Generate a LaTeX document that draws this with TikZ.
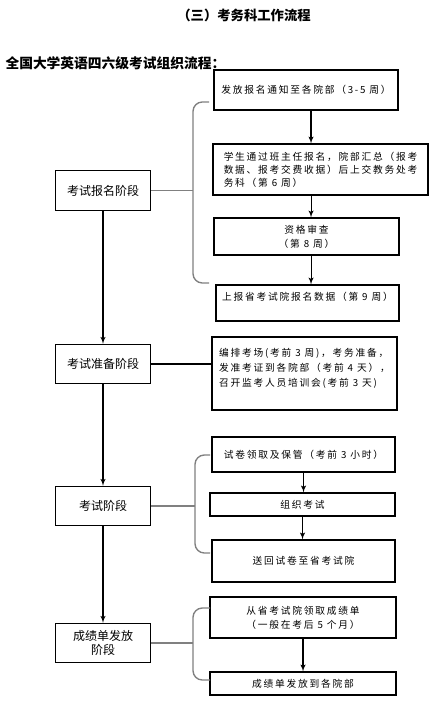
\documentclass[tikz,border=0pt]{standalone}
\usepackage{fontspec}
\setmainfont{Noto Sans CJK SC}
\newfontfamily\cjkwide[LetterSpace=18]{Noto Sans CJK SC}
\usepackage{tikz}
\usetikzlibrary{arrows,positioning}

\begin{document}
\begin{tikzpicture}[x=0.75pt, y=-0.75pt, >=latex', line width=0.8pt,
    stage/.style={rectangle, draw, minimum width=71pt, minimum height=29.5pt, align=center, font=\fontsize{9}{11}\selectfont},
    task/.style={rectangle, draw, minimum width=138pt, align=center, font=\cjkwide\fontsize{7.3}{10.5}\selectfont},
    line/.style={draw, ->},
    grouping/.style={draw, gray, line width=1pt, rounded corners=7pt}]

    \useasboundingbox (0,0) rectangle (443,712);
    \fill[white] (0,0) rectangle (443,712);

    \node [font=\bfseries\fontsize{10}{12}\selectfont] (title) at (244,15) {（三）考务科工作流程};
    \node [anchor=west, inner sep=0pt, font=\bfseries\fontsize{10.3}{12}\selectfont] (subtitle) at (5,63) {全国大学英语四六级考试组织流程：};

    % stages on the left
    \node [stage] (sign) at (103,190.5) {考试报名阶段};
    \node [stage] (prep) at (103,364) {考试准备阶段};
    \node [stage] (exam) at (103,506) {考试阶段};
    \node [stage] (score) at (103,643) {成绩单发放\\阶段};

    % tasks on the right
    \node [task, minimum height=30pt] (notice) at (306,90) {发放报名通知至各院部（3-5 周）};
    \node [task, align=left, inner xsep=2pt, minimum width=161.25pt, minimum height=38.25pt, font=\cjkwide\fontsize{7.3}{9.75}\selectfont] (enrol) at (320.5,169.5) {学生通过班主任报名，院部汇总（报考\\数据、报考交费收据）后上交教务处考\\务科（第 6 周）};
    \node [task, minimum width=138.75pt, minimum height=27.75pt] (check) at (306.5,236.5) {资格审查\\（第 8 周）};
    \node [task, minimum width=137.25pt, minimum height=27pt, text height=8pt, text depth=12pt] (report) at (307.5,303) {上报省考试院报名数据（第 9 周）};
    \node [task, align=left, minimum width=138.75pt, minimum height=54.75pt, font=\cjkwide\fontsize{7.3}{11.25}\selectfont] (arrange) at (304.5,373.5) {编排考场(考前 3 周)，考务准备，\\发准考证到各院部（考前 4 天），\\召开监考人员培训会(考前 3 天)\\[-1.5pt]\mbox{}};
    \node [task, minimum width=137.25pt, minimum height=26.25pt] (papers) at (303.5,454.5) {试卷领取及保管（考前 3 小时）};
    \node [task, minimum width=138.75pt, minimum height=17.25pt] (hold) at (302.5,504.5) {组织考试};
    \node [task, minimum width=137.25pt, minimum height=31.5pt] (return) at (303.5,561) {送回试卷至省考试院};
    \node [task, minimum width=139.5pt, minimum height=30.75pt] (fetch) at (303,617.5) {从省考试院领取成绩单\\（一般在考后 5 个月）};
    \node [task, minimum width=139.5pt, minimum height=17.25pt] (deliver) at (303,683.5) {成绩单发放到各院部};

    % bracket ends
    \coordinate (g1) at (193,190.5);
    \coordinate (g1a) at (209,102);
    \coordinate (g1b) at (209,283);
    \coordinate (g2) at (195,506);
    \coordinate (g2a) at (210,455);
    \coordinate (g2b) at (210,553);
    \coordinate (g3) at (193,643);
    \coordinate (g3a) at (210,608);
    \coordinate (g3b) at (210,680);

    \path [line] (sign) -- (prep);
    \path [line] (prep) -- (exam);
    \path [line] (exam) -- (score);

    \path [line] ([xshift=3.75pt]notice.south) -- ([xshift=3.75pt]notice.south |- enrol.north);
    \path [line] ([xshift=3.4pt]check.north |- enrol.south) -- ([xshift=3.4pt]check.north);
    \path [line] ([xshift=3.4pt]check.south) -- ([xshift=3.4pt]check.south |- report.north);
    \path [line] (papers.south) -- (papers.south |- hold.north);
    \path [line] (hold.south) -- (hold.south |- return.north);
    \path [line] (fetch.south) -- (fetch.south |- deliver.north);

    \draw (prep.east) -- (prep.east -| arrange.west);

    \draw [grouping] (g1a) -- (g1a -| g1) -- (g1b -| g1) -- (g1b);
    \draw [grouping] (sign.east) -- (g1);
    \draw [grouping] (g2a) -- (g2a -| g2) -- (g2b -| g2) -- (g2b);
    \draw [grouping] (exam.east) -- (g2);
    \draw [grouping] (g3a) -- (g3a -| g3) -- (g3b -| g3) -- (g3b);
    \draw [grouping] (score.east) -- (g3);

\end{tikzpicture}
\end{document}
